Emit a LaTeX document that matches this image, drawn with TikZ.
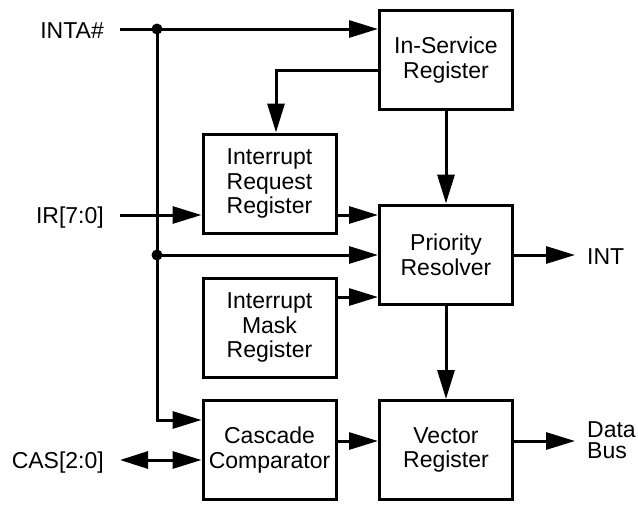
\documentclass[tikz,border=0pt]{standalone}
\usepackage{fontspec}
\setmainfont{Liberation Sans}
\usetikzlibrary{arrows.meta}
\begin{document}
\begin{tikzpicture}[x=1pt,y=-1pt,
 box/.style={draw, line width=3pt, minimum width=133pt, minimum height=99pt, align=center, inner sep=0pt, font=\fontsize{23}{24.7}\selectfont},
 lbl/.style={inner sep=0pt, font=\fontsize{23}{24.7}\selectfont},
 wire/.style={line width=3pt},
 arr/.style={wire, -{Triangle[length=29pt,width=17pt]}},
 darr/.style={wire, {Triangle[length=28pt,width=17pt]}-{Triangle[length=29pt,width=17pt]}},
 jdot/.style={circle, fill, inner sep=0pt, minimum size=11pt}]
\useasboundingbox[fill=white] (0,0) rectangle (638,504);
% boxes
\node[box] (isr) at (446,60) {In-Service\\Register};
\node[box] (irr) at (269.5,183.5) {Interrupt\\Request\\Register};
\node[box] (pr) at (446,254.5) {Priority\\Resolver};
\node[box] (imr) at (269.5,327.5) {Interrupt\\Mask\\Register};
\node[box] (cc) at (269.5,450) {Cascade\\Comparator};
\node[box] (vr) at (446,450) {Vector\\Register};
% labels
\node[lbl, anchor=base east] (inta) at (104,38.5) {INTA\#};
\node[lbl, anchor=base east] (ir) at (104,223.5) {IR[7:0]};
\node[lbl, anchor=base east] (cas) at (104,468.5) {CAS[2:0]};
\node[lbl, anchor=base west] (int) at (587,264) {INT};
\node[lbl, anchor=west, align=left, font=\fontsize{23}{21}\selectfont] (data) at (587,440) {Data\\Bus};
% coordinates
\coordinate (intaS) at (120,29);
\coordinate (irS) at (120,215);
\coordinate (casS) at (120,460);
\coordinate (intE) at (575,255);
\coordinate (dataE) at (575,441);
\node[jdot] (j1) at (157,29) {};
\node[jdot] (j2) at (157,255) {};
% connectors
\draw[arr] (intaS) -- (intaS -| isr.west);
\draw[wire] (j1.center) -- (j2.center);
\draw[arr] (j2.center) -- (j2.center -| pr.west);
\draw[arr] (j2.center) -- (157,420) -- (cc.west |- 0,420);
\draw[arr] (isr.west |- 0,70) -- (276,70) -- (276,0 |- irr.north);
\draw[arr] (irS) -- (irS -| irr.west);
\draw[arr] (irr.east |- 0,215) -- (pr.west |- 0,215);
\draw[arr] (imr.east |- 0,297) -- (pr.west |- 0,297);
\draw[arr] (isr.south) -- (pr.north);
\draw[arr] (pr.south) -- (vr.north);
\draw[arr] (pr.east |- intE) -- (intE);
\draw[arr] (cc.east |- 0,441) -- (vr.west |- 0,441);
\draw[arr] (vr.east |- dataE) -- (dataE);
\draw[darr] (casS) -- (casS -| cc.west);
\end{tikzpicture}
\end{document}
